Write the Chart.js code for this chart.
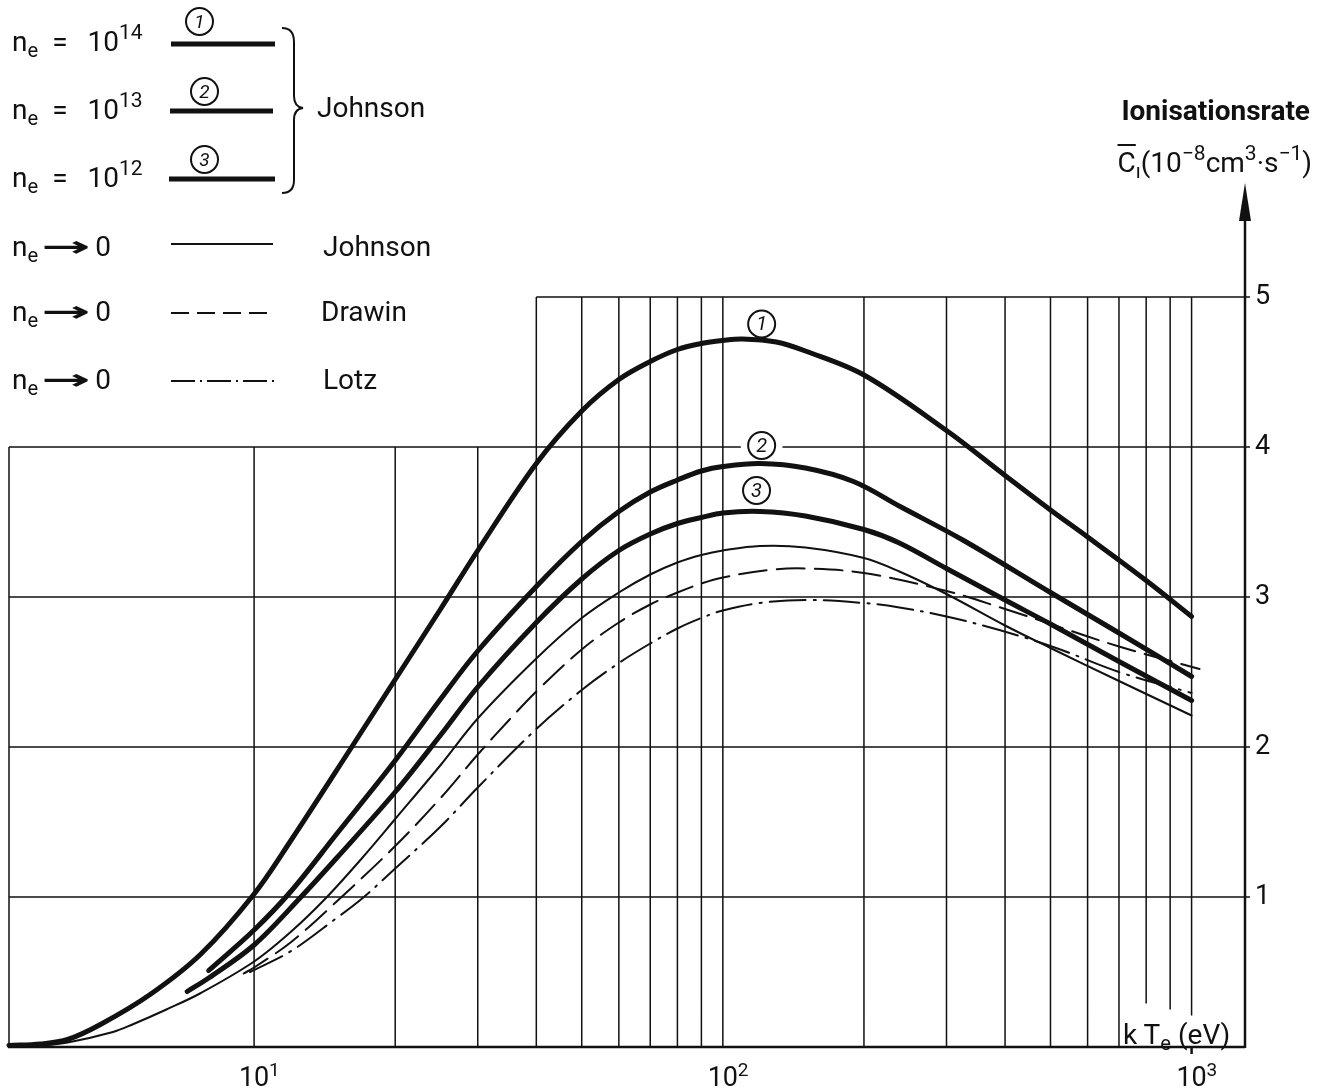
<!DOCTYPE html>
<html>
<head>
<meta charset="utf-8">
<script src="https://cdn.jsdelivr.net/npm/chart.js@4.4.1/dist/chart.umd.min.js"></script>
<style>
  html, body { margin: 0; padding: 0; background: #fff; }
  #wrap { position: relative; width: 1329px; height: 1090px; font-family: Roboto, "DejaVu Sans", sans-serif; color: #111; }
  #wrap canvas, #wrap svg { position: absolute; left: 0; top: 0; }
  .t { position: absolute; white-space: nowrap; font-size: 28px; line-height: 28px; }
  .t sub { font-size: 0.72em; vertical-align: -0.3em; line-height: 0; }
  .t sup { font-size: 0.75em; vertical-align: 0.55em; line-height: 0; }
  .eq { margin-left: 14px; }
  .pw { margin-left: 20px; }
  .arr { display: inline-block; width: 44px; margin: 0 7px 0 6px; text-align: center; font-weight: bold; transform: scaleX(2.1); }
  .ring { position: absolute; width: 25px; height: 25px; border: 2px solid #111; border-radius: 50%;
          font-size: 19px; line-height: 25px; text-align: center; font-style: italic; }
</style>
</head>
<body>
<div id="wrap">
  <canvas id="chart" width="1329" height="1090"></canvas>

  <!-- legend samples and brace -->
  <svg width="420" height="420">
    <g stroke="#111" fill="none">
      <line x1="171" y1="44" x2="275" y2="44" stroke-width="5"/>
      <line x1="170" y1="111" x2="273" y2="111" stroke-width="5"/>
      <line x1="169" y1="179" x2="275" y2="179" stroke-width="5"/>
      <line x1="171" y1="244" x2="273" y2="244" stroke-width="1.8"/>
      <line x1="171" y1="313" x2="275" y2="313" stroke-width="1.8" stroke-dasharray="18 8"/>
      <line x1="171" y1="381" x2="276" y2="381" stroke-width="1.8" stroke-dasharray="24 5 2 5"/>
      <path d="M282 28 Q294 28 294 42 L294 96 Q294 107 303 108 Q294 109 294 120 L294 180 Q294 193 282 193" stroke-width="2"/>
    </g>
  </svg>
  <div class="ring" style="left:185px;top:7px">1</div>
  <div class="ring" style="left:190px;top:77px">2</div>
  <div class="ring" style="left:190px;top:145px">3</div>

  <div class="t" style="left:12px;top:28px">n<sub>e</sub><span class="eq">=</span><span class="pw">10</span><sup>14</sup></div>
  <div class="t" style="left:12px;top:96px">n<sub>e</sub><span class="eq">=</span><span class="pw">10</span><sup>13</sup></div>
  <div class="t" style="left:12px;top:164px">n<sub>e</sub><span class="eq">=</span><span class="pw">10</span><sup>12</sup></div>
  <div class="t" style="left:317px;top:94px">Johnson</div>
  <div class="t" style="left:12px;top:233px">n<sub>e</sub><span class="arr">&#x2192;</span>0</div>
  <div class="t" style="left:12px;top:298px">n<sub>e</sub><span class="arr">&#x2192;</span>0</div>
  <div class="t" style="left:12px;top:366px">n<sub>e</sub><span class="arr">&#x2192;</span>0</div>
  <div class="t" style="left:323px;top:233px">Johnson</div>
  <div class="t" style="left:321px;top:298px">Drawin</div>
  <div class="t" style="left:323px;top:366px">Lotz</div>

  <!-- axis titles -->
  <div class="t" style="right:19px;top:97px;font-size:28px;font-weight:bold">Ionisationsrate</div>
  <div class="t" style="right:17px;top:149px;font-size:28px"><span style="text-decoration:overline">C</span><sub>ı</sub>(10<sup>−8</sup>cm<sup>3</sup>·s<sup>−1</sup>)</div>
  <div class="t" style="left:1123px;top:1021px">k T<sub>e</sub> (eV)</div>
</div>

<script>
const ink = '#111';

// axis ticks
const xTickValues = [10, 100, 1000];
const xTickBase = ['10', '10', '10'];
const xTickExp = ['1', '2', '3'];
const yTickValues = [1, 2, 3, 4, 5];
const yTickLabels = ['1', '2', '3', '4', '5'];

// paper grid
const gridY = [1, 2, 3, 4, 5];
const gridXLower = [10, 20, 30];
const gridXUpper = [40, 50, 60, 70, 80, 90, 100, 200, 300, 400, 500, 600, 700, 800, 900, 1000];
const gridFoot = { 800: 0.29, 900: 0.25, 1000: 0.21 };

// Johnson, n_e = 10^14  (1)
const j14X = [3, 3.5, 4, 4.7, 6, 7.7, 10, 12, 16, 20, 25, 30, 40, 50, 60, 70, 80, 90, 100, 110, 130, 150, 200, 300, 400, 500, 600, 800, 1000];
const j14Y = [0.01, 0.02, 0.05, 0.15, 0.35, 0.62, 1.02, 1.38, 1.98, 2.45, 2.92, 3.31, 3.89, 4.24, 4.45, 4.57, 4.65, 4.69, 4.71, 4.72, 4.70, 4.64, 4.48, 4.11, 3.81, 3.58, 3.40, 3.11, 2.87];

// Johnson, n_e = 10^13  (2)
const j13X = [8, 10, 12, 15, 20, 25, 30, 40, 50, 60, 70, 80, 90, 100, 120, 150, 190, 240, 325, 500, 700, 1000];
const j13Y = [0.51, 0.78, 1.04, 1.42, 1.91, 2.32, 2.64, 3.07, 3.37, 3.57, 3.70, 3.78, 3.84, 3.87, 3.89, 3.86, 3.77, 3.60, 3.38, 3.03, 2.76, 2.47];

// Johnson, n_e = 10^12  (3)
const j12X = [7.2, 8, 10, 12.5, 15, 20, 25, 30, 40, 50, 60, 70, 80, 90, 100, 120, 150, 200, 238, 300, 400, 500, 700, 1000];
const j12Y = [0.37, 0.46, 0.68, 0.99, 1.26, 1.70, 2.08, 2.40, 2.83, 3.12, 3.31, 3.42, 3.49, 3.53, 3.56, 3.57, 3.54, 3.45, 3.36, 3.19, 2.98, 2.82, 2.57, 2.31];

// Johnson, n_e -> 0
const j0X = [3, 3.5, 4, 5, 5.5, 6.5, 7.7, 10, 12, 14.2, 17, 20, 25, 30, 40, 50, 60, 70, 80, 90, 100, 120, 150, 200, 238, 300, 400, 500, 700, 1000];
const j0Y = [0.0, 0.01, 0.03, 0.1, 0.15, 0.25, 0.36, 0.57, 0.77, 0.99, 1.26, 1.52, 1.88, 2.19, 2.59, 2.86, 3.03, 3.15, 3.23, 3.28, 3.31, 3.34, 3.33, 3.26, 3.17, 3.02, 2.81, 2.66, 2.44, 2.21];

// Drawin, n_e -> 0
const drawinX = [9.5, 10, 12, 15, 20, 25, 30, 35, 40, 50, 60, 70, 80, 90, 100, 125, 150, 200, 300, 400, 500, 700, 1040];
const drawinY = [0.49, 0.53, 0.70, 0.97, 1.34, 1.66, 1.95, 2.18, 2.37, 2.65, 2.83, 2.95, 3.03, 3.09, 3.13, 3.18, 3.19, 3.16, 3.04, 2.92, 2.82, 2.67, 2.52];

// Lotz, n_e -> 0
const lotzX = [9.8, 12, 15, 17, 20, 25, 30, 40, 50, 60, 70, 80, 90, 100, 120, 150, 200, 238, 300, 389, 514, 700, 1000];
const lotzY = [0.5, 0.64, 0.86, 0.99, 1.19, 1.47, 1.73, 2.12, 2.38, 2.56, 2.69, 2.79, 2.86, 2.91, 2.96, 2.98, 2.96, 2.93, 2.87, 2.78, 2.66, 2.50, 2.36];

// circled curve numbers
const tagText = ['1', '2', '3'];
const tagX = [121, 121, 118];
const tagY = [4.82, 4.01, 3.71];

function points(xs, ys) {
    return xs.map((v, i) => ({ x: v, y: ys[i] }));
}

function curve(xs, ys, width, dash) {
    return {
        data: points(xs, ys),
        borderColor: ink,
        borderWidth: width,
        borderDash: dash || [],
        tension: 0.35,
        borderCapStyle: 'round',
        pointRadius: 0,
        fill: false,
        clip: false
    };
}

// grid, axes with arrow, curve numbers, tick exponents
const paperGrid = {
    id: 'paperGrid',
    beforeDatasetsDraw(chart) {
        const { ctx, scales: { x, y } } = chart;
        const left = x.getPixelForValue(3);
        const right = x.getPixelForValue(1300);
        const base = y.getPixelForValue(0);
        ctx.save();
        ctx.strokeStyle = ink;
        ctx.lineWidth = 1.5;
        ctx.beginPath();
        gridY.forEach(v => {
            const py = y.getPixelForValue(v);
            const x0 = v >= 5 ? x.getPixelForValue(40) : left;
            ctx.moveTo(x0, py);
            ctx.lineTo(right + 5, py);
        });
        gridXLower.forEach(v => {
            const px = x.getPixelForValue(v);
            ctx.moveTo(px, base);
            ctx.lineTo(px, y.getPixelForValue(4));
        });
        gridXUpper.forEach(v => {
            const px = x.getPixelForValue(v);
            ctx.moveTo(px, y.getPixelForValue(gridFoot[v] || 0));
            ctx.lineTo(px, y.getPixelForValue(5));
        });
        ctx.moveTo(left, base);
        ctx.lineTo(left, y.getPixelForValue(4));
        ctx.stroke();

        // bottom axis and little tick under 10^3
        ctx.lineWidth = 2.5;
        ctx.beginPath();
        ctx.moveTo(left - 1, base);
        ctx.lineTo(right, base);
        const p1000 = x.getPixelForValue(1000);
        ctx.moveTo(p1000, base);
        ctx.lineTo(p1000, base + 7);
        ctx.stroke();

        // right axis with arrow
        const top = chart.chartArea.top;
        ctx.beginPath();
        ctx.moveTo(right, base + 1);
        ctx.lineTo(right, top + 30);
        ctx.stroke();
        ctx.fillStyle = ink;
        ctx.beginPath();
        ctx.moveTo(right, top);
        ctx.lineTo(right - 6, top + 38);
        ctx.lineTo(right + 6, top + 38);
        ctx.closePath();
        ctx.fill();

        // circled numbers on the curves
        tagText.forEach((t, i) => {
            const px = x.getPixelForValue(tagX[i]);
            const py = y.getPixelForValue(tagY[i]);
            ctx.fillStyle = '#fff';
            ctx.beginPath();
            ctx.arc(px, py, 21, 0, 2 * Math.PI);
            ctx.fill();
            ctx.lineWidth = 2;
            ctx.strokeStyle = ink;
            ctx.beginPath();
            ctx.arc(px, py, 13.5, 0, 2 * Math.PI);
            ctx.stroke();
            ctx.fillStyle = ink;
            ctx.font = 'italic 20px Roboto';
            ctx.textAlign = 'center';
            ctx.textBaseline = 'middle';
            ctx.fillText(t, px, py + 1);
        });
        ctx.restore();
    },
    afterDraw(chart) {
        const { ctx, scales: { x, y } } = chart;
        const base = y.getPixelForValue(0);
        ctx.save();
        ctx.fillStyle = ink;
        ctx.font = '19px Roboto';
        ctx.textAlign = 'left';
        ctx.textBaseline = 'alphabetic';
        xTickValues.forEach((v, i) => {
            ctx.fillText(xTickExp[i], x.getPixelForValue(v) + 15, base + 29);
        });
        ctx.restore();
    }
};

const ctx = document.getElementById('chart').getContext('2d');
const chart = new Chart(ctx, {
    type: 'line',
    data: {
        datasets: [
            curve(j14X, j14Y, 5),
            curve(j13X, j13Y, 5),
            curve(j12X, j12Y, 5),
            curve(j0X, j0Y, 2),
            curve(drawinX, drawinY, 2, [28, 10]),
            curve(lotzX, lotzY, 2, [36, 8, 2, 8])
        ]
    },
    options: {
        responsive: false,
        animation: false,
        layout: { padding: { left: 9, top: 183, right: 0, bottom: 0 } },
        plugins: { legend: { display: false }, tooltip: { enabled: false } },
        scales: {
            x: {
                type: 'logarithmic',
                min: 3,
                max: 1300,
                position: 'bottom',
                grid: { display: false, drawTicks: false },
                border: { display: false },
                afterBuildTicks: s => { s.ticks = xTickValues.map(v => ({ value: v })); },
                afterFit: s => { s.height = 43; },
                ticks: {
                    callback: (v, i) => xTickBase[i],
                    autoSkip: false,
                    maxRotation: 0,
                    padding: 16,
                    color: ink,
                    font: { family: 'Roboto', size: 27 }
                }
            },
            y: {
                type: 'linear',
                min: 0,
                max: 5.76,
                position: 'right',
                grid: { display: false, drawTicks: false },
                border: { display: false },
                afterBuildTicks: s => { s.ticks = yTickValues.map(v => ({ value: v })); },
                afterFit: s => { s.width = 84; },
                ticks: {
                    callback: (v, i) => yTickLabels[i],
                    padding: 10,
                    color: ink,
                    font: { family: 'Roboto', size: 27 }
                }
            }
        }
    },
    plugins: [paperGrid]
});
</script>
</body>
</html>
